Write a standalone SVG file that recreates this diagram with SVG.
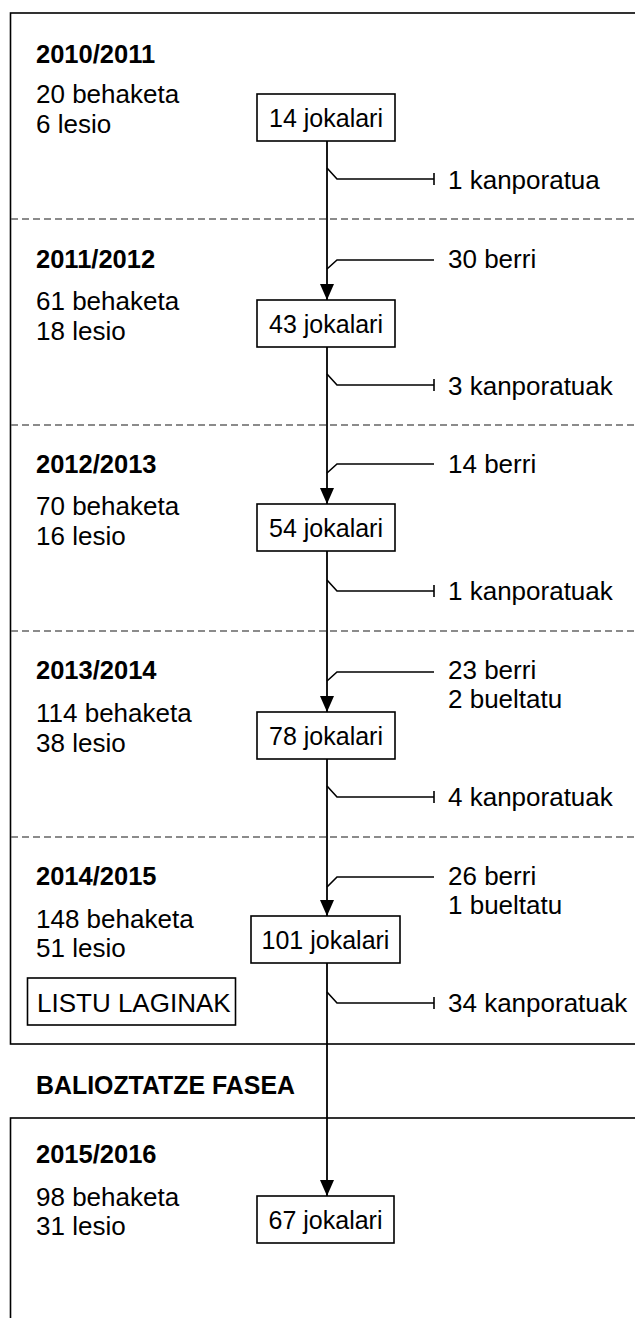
<svg xmlns="http://www.w3.org/2000/svg" width="635" height="1318" viewBox="0 0 635 1318">
<style>
  text { font-family: "Liberation Sans", Arial, sans-serif; fill: #000; }
  .lbl { font-size: 26px; }
  .yr { font-size: 25.5px; font-weight: bold; }
  .ph { font-size: 25px; font-weight: bold; }
  .bx { font-size: 25px; text-anchor: middle; }
  .frame { fill: none; stroke: #000; stroke-width: 1.6; }
  .dash { fill: none; stroke: #666; stroke-width: 1.5; stroke-dasharray: 7 4; }
  .node rect { fill: #fff; stroke: #000; stroke-width: 1.6; }
  .flow { fill: none; stroke: #000; stroke-width: 1.8; }
  .br { fill: none; stroke: #000; stroke-width: 1.6; }
</style>
<defs>
  <marker id="arr" markerUnits="userSpaceOnUse" markerWidth="17" markerHeight="15" refX="16" refY="7" orient="auto">
    <path d="M0,0 L16,7 L0,14 Z" fill="#000"/>
  </marker>
  <marker id="tick" markerUnits="userSpaceOnUse" markerWidth="4" markerHeight="12" refX="1" refY="6" orient="auto">
    <path d="M1,0 V12" stroke="#000" stroke-width="1.6"/>
  </marker>
</defs>
<rect width="635" height="1318" fill="#fff"/>

<g id="frames">
  <rect class="frame" x="10.5" y="13" width="700" height="1031"/>
  <rect class="frame" x="10.5" y="1118" width="700" height="300"/>
  <line class="dash" x1="11" y1="219" x2="635" y2="219"/>
  <line class="dash" x1="11" y1="425" x2="635" y2="425"/>
  <line class="dash" x1="11" y1="631" x2="635" y2="631"/>
  <line class="dash" x1="11" y1="837" x2="635" y2="837"/>
</g>

<g id="connectors">
  <path class="flow" d="M327,141 V300" marker-end="url(#arr)"/>
  <path class="flow" d="M327,347 V504" marker-end="url(#arr)"/>
  <path class="flow" d="M327,551 V712" marker-end="url(#arr)"/>
  <path class="flow" d="M327,759 V916" marker-end="url(#arr)"/>
  <path class="flow" d="M327,963 V1196" marker-end="url(#arr)"/>
  <path class="br" d="M327,168 L337,179 H434" marker-end="url(#tick)"/>
  <path class="br" d="M434,260 H337 L327,269"/>
  <path class="br" d="M327,374 L337,385 H434" marker-end="url(#tick)"/>
  <path class="br" d="M434,464 H337 L327,473"/>
  <path class="br" d="M327,580 L337,591 H434" marker-end="url(#tick)"/>
  <path class="br" d="M434,672 H337 L327,681"/>
  <path class="br" d="M327,786 L337,797 H434" marker-end="url(#tick)"/>
  <path class="br" d="M434,877 H337 L327,887"/>
  <path class="br" d="M327,992 L337,1003 H434" marker-end="url(#tick)"/>
</g>

<g id="season-2010">
  <text class="yr" x="36" y="63">2010/2011</text>
  <text class="lbl" x="36" y="103">20 behaketa</text>
  <text class="lbl" x="36" y="133">6 lesio</text>
</g>
<g id="node-14" class="node">
  <rect x="257" y="94" width="138" height="47"/>
  <text class="bx" x="326" y="127">14 jokalari</text>
</g>
<g id="out-1"><text class="lbl" x="448" y="189">1 kanporatua</text></g>

<g id="season-2011">
  <text class="yr" x="36" y="268">2011/2012</text>
  <text class="lbl" x="36" y="310">61 behaketa</text>
  <text class="lbl" x="36" y="340">18 lesio</text>
</g>
<g id="in-2"><text class="lbl" x="448" y="268">30 berri</text></g>
<g id="node-43" class="node">
  <rect x="257" y="300" width="138" height="47"/>
  <text class="bx" x="326" y="333">43 jokalari</text>
</g>
<g id="out-2"><text class="lbl" x="448" y="395">3 kanporatuak</text></g>

<g id="season-2012">
  <text class="yr" x="36" y="473">2012/2013</text>
  <text class="lbl" x="36" y="515">70 behaketa</text>
  <text class="lbl" x="36" y="545">16 lesio</text>
</g>
<g id="in-3"><text class="lbl" x="448" y="473">14 berri</text></g>
<g id="node-54" class="node">
  <rect x="257" y="504" width="138" height="47"/>
  <text class="bx" x="326" y="537">54 jokalari</text>
</g>
<g id="out-3"><text class="lbl" x="448" y="600">1 kanporatuak</text></g>

<g id="season-2013">
  <text class="yr" x="36" y="679">2013/2014</text>
  <text class="lbl" x="36" y="722">114 behaketa</text>
  <text class="lbl" x="36" y="752">38 lesio</text>
</g>
<g id="in-4">
  <text class="lbl" x="448" y="679">23 berri</text>
  <text class="lbl" x="448" y="708">2 bueltatu</text>
</g>
<g id="node-78" class="node">
  <rect x="257" y="712" width="138" height="47"/>
  <text class="bx" x="326" y="745">78 jokalari</text>
</g>
<g id="out-4"><text class="lbl" x="448" y="806">4 kanporatuak</text></g>

<g id="season-2014">
  <text class="yr" x="36" y="885">2014/2015</text>
  <text class="lbl" x="36" y="928">148 behaketa</text>
  <text class="lbl" x="36" y="957">51 lesio</text>
</g>
<g id="in-5">
  <text class="lbl" x="448" y="885">26 berri</text>
  <text class="lbl" x="448" y="914">1 bueltatu</text>
</g>
<g id="node-101" class="node">
  <rect x="251" y="916" width="149" height="47"/>
  <text class="bx" x="325.5" y="949">101 jokalari</text>
</g>
<g id="out-5"><text class="lbl" x="448" y="1012">34 kanporatuak</text></g>
<g id="listu" class="node">
  <rect x="27.5" y="978" width="208" height="47"/>
  <text class="lbl" x="37" y="1012">LISTU LAGINAK</text>
</g>

<g id="phase">
  <text class="ph" x="36" y="1094" textLength="259" lengthAdjust="spacingAndGlyphs">BALIOZTATZE FASEA</text>
</g>

<g id="season-2015">
  <text class="yr" x="36" y="1163">2015/2016</text>
  <text class="lbl" x="36" y="1206">98 behaketa</text>
  <text class="lbl" x="36" y="1235">31 lesio</text>
</g>
<g id="node-67" class="node">
  <rect x="257" y="1196" width="137" height="47"/>
  <text class="bx" x="325.5" y="1229">67 jokalari</text>
</g>
</svg>
